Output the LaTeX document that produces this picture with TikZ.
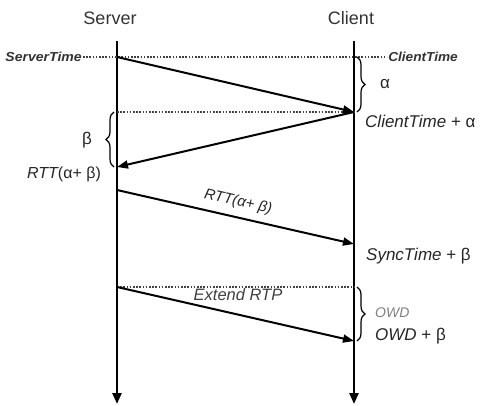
\documentclass[tikz,border=0pt]{standalone}
\usepackage{fontspec}
\setmainfont{Liberation Sans}
\usetikzlibrary{arrows.meta,decorations.pathreplacing}
\begin{document}
\begin{tikzpicture}[x=1pt,y=-1pt,
  timeline/.style={line width=2.4pt,-{Triangle[length=11pt,width=9pt]}},
  msg/.style={line width=2pt,-{Triangle[length=11pt,width=8pt]}},
  dots/.style={line width=1.6pt,dash pattern=on 1.6pt off 1.6pt,black!75},
  brc/.style={decorate,decoration={brace,amplitude=8pt},line width=1.2pt},
  title/.style={font=\fontsize{18}{20}\selectfont,text=black!80},
  tlabel/.style={font=\fontsize{13}{15}\selectfont\bfseries\itshape,text=black!80,inner sep=1pt},
  lbl/.style={font=\fontsize{17}{19}\selectfont,text=black!85,inner sep=1pt},
  greek/.style={font=\fontsize{17}{19}\selectfont,text=black!85,inner sep=1pt},
]
\useasboundingbox (0,0) rectangle (481,405);

% titles
\node[title] (srv) at (110,18) {Server};
\node[title] (cli) at (351,18) {Client};

% timelines
\coordinate (s0) at (117,41); \coordinate (s1) at (117,404);
\coordinate (c0) at (354,41); \coordinate (c1) at (354,404);
\draw[timeline] (s0) -- (s1);
\draw[timeline] (c0) -- (c1);

% event points
\coordinate (sA) at (117,57);
\coordinate (cB) at (354,112);
\coordinate (sB) at (117,112);
\coordinate (sC) at (117,167);
\coordinate (sD) at (117,190);
\coordinate (cD) at (354,244);
\coordinate (sE) at (117,287);
\coordinate (cE) at (354,287);
\coordinate (cF) at (354,341);

% time labels and dotted lines
\node[tlabel,anchor=east,xscale=1.08] (st) at (83,57) {ServerTime};
\node[tlabel,anchor=west,xscale=1.05] (ct) at (387,57) {ClientTime};
\draw[dots] (st.east) -- (ct.west);
\draw[dots] (sB) -- (cB);
\draw[dots] (sE) -- (cE);

% messages
\draw[msg] (sA) -- (cB);
\draw[msg] (cB) -- (sC);
\draw[msg] (sD) -- (cD);
\draw[msg] (sE) -- (cF);

% braces
\coordinate (ba1) at (357,57); \coordinate (ba2) at (357,112);
\draw[brc] (ba1) -- (ba2);
\coordinate (bb1) at (114,167); \coordinate (bb2) at (114,112);
\draw[brc] (bb1) -- (bb2);
\coordinate (bo1) at (357,287); \coordinate (bo2) at (357,341);
\draw[brc] (bo1) -- (bo2);

% labels
\node[greek] (alpha) at (385,84) {α};
\node[greek] (beta) at (87,140) {β};
\node[lbl,anchor=west] (ctA) at (364,121) {\itshape ClientTime\/ \upshape + α};
\node[lbl,font=\fontsize{16}{18}\selectfont] (rttL) at (64,174) {\itshape RTT\upshape(α+ β)};
\node[lbl,font=\fontsize{15}{17}\selectfont\itshape,rotate=-12.6] (rttM) at (238,202) {RTT(α+ β)};
\node[lbl,anchor=west] (sync) at (365,256) {\itshape SyncTime\/ \upshape + β};
\node[lbl,font=\fontsize{16.5}{18}\selectfont\itshape,text=black!75] (ext) at (238,295) {Extend RTP};
\node[lbl,font=\fontsize{14}{16}\selectfont\itshape,text=black!50,anchor=west] (owd) at (374,313) {OWD};
\node[lbl,anchor=west] (owdb) at (374,336) {\itshape OWD\/ \upshape + β};
\end{tikzpicture}
\end{document}
